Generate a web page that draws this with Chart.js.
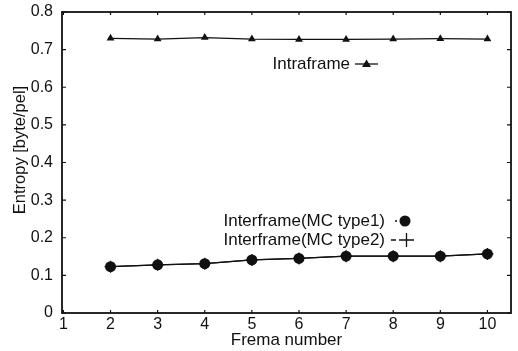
<!DOCTYPE html>
<html>
<head>
<meta charset="utf-8">
<script src="https://cdn.jsdelivr.net/npm/chart.js@4/dist/chart.umd.min.js"></script>
<style>
  html, body { margin: 0; padding: 0; background: #fff; }
  #wrap { width: 518px; height: 351px; position: relative; }
</style>
</head>
<body>
<div id="wrap"><canvas id="c"></canvas></div>
<script>
// Entropy per frame: intraframe vs interframe (MC type1 / type2)
const frames = [2, 3, 4, 5, 6, 7, 8, 9, 10];
const intraframe = [0.730, 0.728, 0.732, 0.728, 0.727, 0.727, 0.728, 0.729, 0.728];
const mcType1 = [0.123, 0.128, 0.131, 0.141, 0.145, 0.151, 0.151, 0.151, 0.157];
const mcType2 = [0.123, 0.128, 0.131, 0.141, 0.145, 0.151, 0.151, 0.151, 0.157];
const xTicks = [1, 2, 3, 4, 5, 6, 7, 8, 9, 10];
const yTicks = [0, 0.1, 0.2, 0.3, 0.4, 0.5, 0.6, 0.7, 0.8];

const FONT = '"Liberation Sans", Arial, sans-serif';
const INK = '#111';

function pts(ys) {
  return frames.map((x, i) => ({ x: x, y: ys[i] }));
}

// frame + inward ticks on all four sides
const framePlugin = {
  id: 'frame',
  afterDatasetsDraw(chart) {
    const { ctx, chartArea: a, scales } = chart;
    ctx.save();
    ctx.strokeStyle = INK;
    ctx.lineWidth = 1.8;
    ctx.strokeRect(a.left, a.top, a.right - a.left, a.bottom - a.top);
    ctx.lineWidth = 1.2;
    ctx.beginPath();
    xTicks.forEach(v => {
      const px = scales.x.getPixelForValue(v);
      ctx.moveTo(px, a.bottom); ctx.lineTo(px, a.bottom - 3);
      ctx.moveTo(px, a.top); ctx.lineTo(px, a.top + 3);
    });
    yTicks.forEach(v => {
      const py = scales.y.getPixelForValue(v);
      ctx.moveTo(a.left, py); ctx.lineTo(a.left + 4, py);
      ctx.moveTo(a.right, py); ctx.lineTo(a.right - 4, py);
    });
    ctx.stroke();
    ctx.restore();
  }
};

// key labels placed inside the plot, plus the y title (sits a bit above centre)
const keyPlugin = {
  id: 'key',
  afterDraw(chart) {
    const { ctx } = chart;
    ctx.save();
    ctx.fillStyle = INK;
    ctx.strokeStyle = INK;
    ctx.font = '17px ' + FONT;
    ctx.textBaseline = 'middle';
    ctx.textAlign = 'right';

    // Intraframe -▲-
    ctx.fillText('Intraframe', 350, 64);
    ctx.lineWidth = 1.3;
    ctx.beginPath(); ctx.moveTo(355, 64); ctx.lineTo(378, 64); ctx.stroke();
    ctx.beginPath();
    ctx.moveTo(366.5, 59.5); ctx.lineTo(371, 67); ctx.lineTo(362, 67); ctx.closePath();
    ctx.fill();

    // Interframe(MC type1) · ●
    ctx.fillText('Interframe(MC type1)', 385, 221);
    ctx.beginPath(); ctx.arc(396, 221, 1, 0, Math.PI * 2); ctx.fill();
    ctx.beginPath(); ctx.arc(405, 221, 5.5, 0, Math.PI * 2); ctx.fill();

    // Interframe(MC type2) -+
    ctx.fillText('Interframe(MC type2)', 385, 240);
    ctx.beginPath();
    ctx.moveTo(391, 240); ctx.lineTo(396, 240);
    ctx.moveTo(399, 240); ctx.lineTo(414, 240);
    ctx.moveTo(406.5, 233); ctx.lineTo(406.5, 247);
    ctx.stroke();

    // y axis title
    ctx.translate(20, 150);
    ctx.rotate(-Math.PI / 2);
    ctx.textAlign = 'center';
    ctx.font = '16.5px ' + FONT;
    ctx.fillText('Entropy [byte/pel]', 0, 0);
    ctx.restore();
  }
};

new Chart(document.getElementById('c'), {
  type: 'line',
  data: {
    datasets: [
      {
        label: 'Intraframe',
        data: pts(intraframe),
        borderColor: INK,
        backgroundColor: INK,
        borderWidth: 1.2,
        pointStyle: 'triangle',
        pointRadius: 4.5,
        pointBorderWidth: 0,
        tension: 0
      },
      {
        label: 'Interframe(MC type2)',
        data: pts(mcType2),
        borderColor: INK,
        backgroundColor: INK,
        borderWidth: 1.2,
        pointStyle: 'cross',
        pointRadius: 6,
        pointBorderWidth: 1.2,
        tension: 0
      },
      {
        label: 'Interframe(MC type1)',
        data: pts(mcType1),
        borderColor: INK,
        backgroundColor: INK,
        borderWidth: 1.2,
        pointStyle: 'circle',
        pointRadius: 5.5,
        pointBorderWidth: 0,
        tension: 0
      }
    ]
  },
  options: {
    responsive: true,
    maintainAspectRatio: false,
    animation: false,
    layout: { autoPadding: false, padding: { top: 12, right: 7, left: 0, bottom: 0 } },
    plugins: {
      legend: { display: false },
      tooltip: { enabled: false }
    },
    scales: {
      x: {
        type: 'linear',
        min: 0.97,
        max: 10.5,
        afterBuildTicks: s => { s.ticks = xTicks.map(v => ({ value: v })); },
        afterFit: s => { s.height = 38; s.paddingLeft = 0; s.paddingRight = 0; },
        grid: { display: false, drawTicks: false, tickLength: 0 },
        border: { display: false },
        ticks: {
          color: INK,
          font: { family: FONT, size: 16 },
          padding: 2,
          maxRotation: 0
        },
        title: {
          display: true,
          text: 'Frema number',
          color: INK,
          font: { family: FONT, size: 17 },
          padding: { top: 0, bottom: 0 }
        }
      },
      y: {
        min: 0,
        max: 0.8,
        afterBuildTicks: s => { s.ticks = yTicks.map(v => ({ value: v })); },
        afterFit: s => { s.width = 62; s.paddingTop = 0; s.paddingBottom = 0; },
        grid: { display: false, drawTicks: false, tickLength: 0 },
        border: { display: false },
        ticks: {
          color: INK,
          font: { family: FONT, size: 16 },
          padding: 9,
          callback: v => v === 0 ? '0' : v.toFixed(1)
        },
        title: { display: false }
      }
    }
  },
  plugins: [framePlugin, keyPlugin]
});
</script>
</body>
</html>
